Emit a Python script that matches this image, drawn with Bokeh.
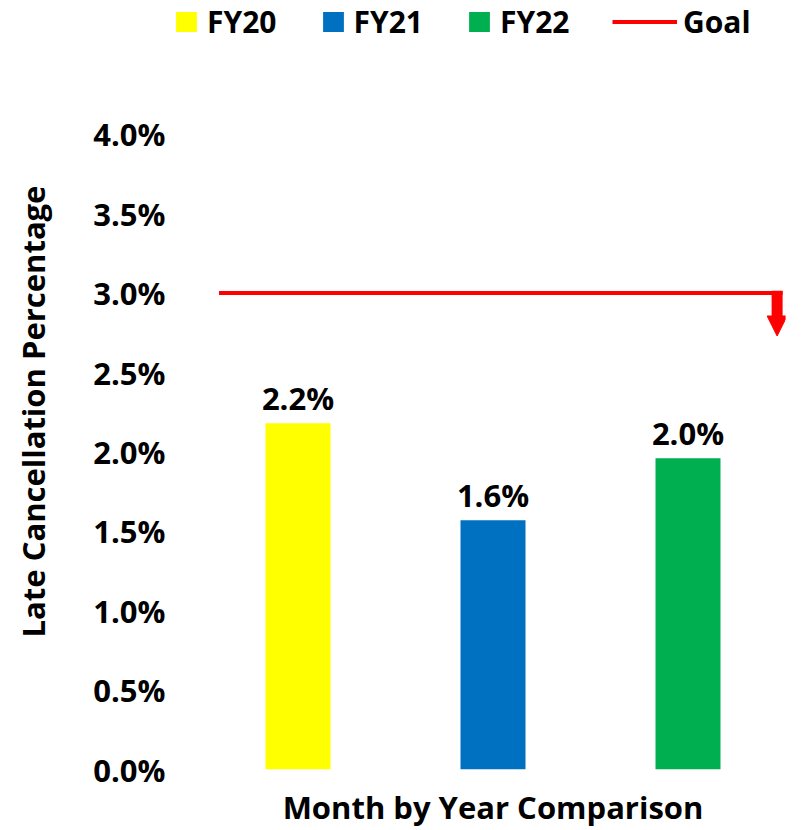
from bokeh.plotting import figure
from bokeh.layouts import column
from bokeh.models import (Range1d, FixedTicker, PrintfTickFormatter, Legend, LegendItem,
                          ColumnDataSource, Arrow, NormalHead)
from bokeh.core.properties import value
from bokeh.embed import file_html
from bokeh.resources import INLINE

# ---- data ----
categories = ["FY20", "FY21", "FY22"]
late_cancel_pct = [2.18, 1.57, 1.96]
bar_colors = ["#FFFF00", "#0070C0", "#00B050"]
goal_label = "Goal"
goal_color = "#FF0000"
goal_value = 3.0
goal_x = [0.095, 2.985]
goal_arrow_end = 2.73
y_ticks = [0.0, 0.5, 1.0, 1.5, 2.0, 2.5, 3.0, 3.5, 4.0]
x_title = "Month by Year Comparison"
y_title = "Late Cancellation Percentage"

FONT = "Open Sans"
W = 802

xs = [i + 0.5 for i in range(len(categories))]

# ---- legend strip (its own small figure; its marks sit outside its visible range) ----
lg = figure(width=W, height=52, output_backend="svg", toolbar_location=None,
            x_range=Range1d(0, len(categories)), y_range=Range1d(100, 101),
            min_border=0, min_border_left=0, min_border_right=0, min_border_top=0, min_border_bottom=0)
lg.frame_align = False
lg.axis.visible = False
lg.grid.visible = False
lg.outline_line_color = None
leg_bars = [lg.vbar(x=[xs[i]], top=[late_cancel_pct[i]], width=1/3, fill_color=c, line_color=None)
            for i, c in enumerate(bar_colors)]
leg_goal = lg.line(x=goal_x, y=[goal_value, goal_value], line_color=goal_color, line_width=4)

common = dict(orientation="horizontal", padding=0, margin=0, border_line_color=None,
              background_fill_alpha=0, label_text_font=FONT, label_text_font_style="bold",
              label_text_font_size="30px", label_text_color="black")
leg1 = Legend(items=[LegendItem(label=c, renderers=[leg_bars[i]]) for i, c in enumerate(categories)],
              location=(173, 10), glyph_width=26, glyph_height=25,
              label_standoff=8, spacing=43, **common)
leg2 = Legend(items=[LegendItem(label=goal_label, renderers=[leg_goal])],
              location=(612, 10), glyph_width=65, glyph_height=25,
              label_standoff=6, **common)
lg.add_layout(leg1, "center")
lg.add_layout(leg2, "center")

# ---- main chart ----
p = figure(width=W, height=778, output_backend="svg", toolbar_location=None,
           x_range=Range1d(0, len(categories)), y_range=Range1d(0, 4.509),
           min_border_left=200, min_border_right=17, min_border_top=1, min_border_bottom=61)
p.frame_align = False
p.outline_line_color = None
p.xgrid.visible = False
p.ygrid.visible = False

src = ColumnDataSource(dict(x=xs, top=late_cancel_pct, color=bar_colors, cat=categories,
                            lab=["%.1f%%" % v for v in late_cancel_pct]))

p.vbar(x="x", top="top", bottom=0, width=1/3, fill_color="color", line_color=None, source=src)

p.text(x="x", y="top", text="lab", source=src, text_align="center", text_baseline="bottom",
       y_offset=-4, text_font=value(FONT), text_font_style="bold", text_font_size="31px",
       text_color="black")

p.line(x=goal_x, y=[goal_value, goal_value], line_color=goal_color, line_width=4)
p.add_layout(Arrow(x_start=goal_x[1] - 0.028, y_start=goal_value + 0.015,
                   x_end=goal_x[1] - 0.028, y_end=goal_arrow_end,
                   line_color=goal_color, line_width=11,
                   end=NormalHead(size=20, fill_color=goal_color, line_color=goal_color, line_width=1)))

# axes
p.yaxis.ticker = FixedTicker(ticks=y_ticks)
p.yaxis.formatter = PrintfTickFormatter(format="%.1f%%")
p.yaxis.axis_line_color = None
p.yaxis.major_tick_line_color = None
p.yaxis.minor_tick_line_color = None
p.yaxis.major_tick_out = 0
p.yaxis.major_label_standoff = 35
p.yaxis.major_label_text_font = FONT
p.yaxis.major_label_text_font_style = "bold"
p.yaxis.major_label_text_font_size = "31px"
p.yaxis.major_label_text_color = "black"
p.yaxis.axis_label = y_title
p.yaxis.axis_label_standoff = 36
p.yaxis.axis_label_text_font = FONT
p.yaxis.axis_label_text_font_style = "bold"
p.yaxis.axis_label_text_font_size = "31px"
p.yaxis.axis_label_text_color = "black"

p.xaxis.ticker = FixedTicker(ticks=[])
p.xaxis.axis_line_color = None
p.xaxis.major_tick_line_color = None
p.xaxis.minor_tick_line_color = None
p.xaxis.major_tick_out = 0
p.xaxis.major_label_standoff = 0
p.xaxis.axis_label = x_title
p.xaxis.axis_label_standoff = 16
p.xaxis.axis_label_text_font = FONT
p.xaxis.axis_label_text_font_style = "bold"
p.xaxis.axis_label_text_font_size = "31px"
p.xaxis.axis_label_text_color = "black"

layout = column(lg, p, spacing=0)
open("out.html", "w").write(file_html(layout, INLINE))
